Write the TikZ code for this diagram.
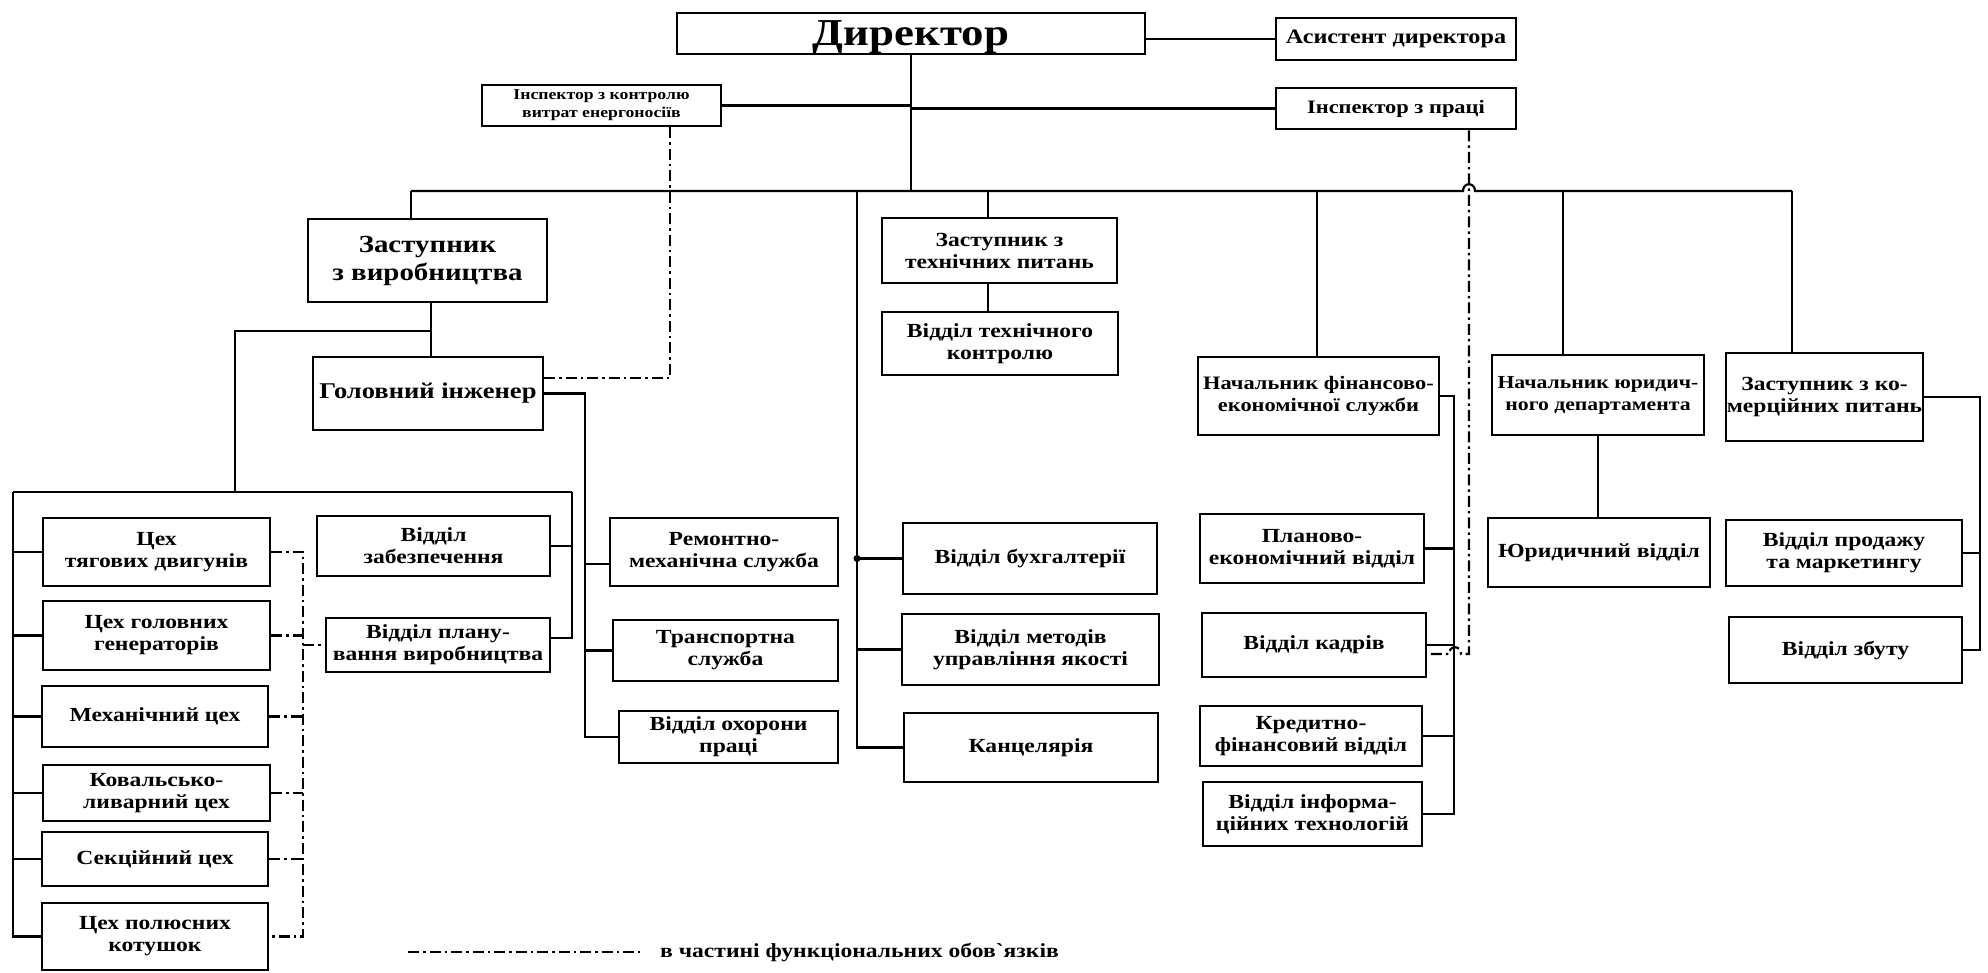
\documentclass[tikz,border=0pt]{standalone}
\usepackage{fontspec}
\newfontfamily\ukr{Liberation Serif}[FakeStretch=1.18]
\usetikzlibrary{calc}
\begin{document}
\begin{tikzpicture}[x=1pt,y=-1pt,
  box/.style={draw, line width=2pt, fill=white, align=center, inner sep=1pt,
    font=\ukr\bfseries\fontsize{20}{22}\selectfont},
  ln/.style={line width=2.2pt},
  dd/.style={line width=2.2pt, dash pattern=on 11pt off 4pt on 2.5pt off 4pt}]
\useasboundingbox[fill=white] (0,0) rectangle (1988,973);

% top level
\node[box, minimum width=468pt, minimum height=41pt, line width=2.6pt, text depth=0pt,
  font=\ukr\bfseries\fontsize{38}{40}\selectfont] (dir) at (911,33.5) {Директор};
\node[box, minimum width=240pt, minimum height=42pt, line width=2.6pt,
  font=\ukr\bfseries\fontsize{20.5}{23}\selectfont] (asst) at (1396,39) {Асистент директора};
\node[box, minimum width=239pt, minimum height=41pt, line width=2.6pt,
  font=\ukr\bfseries\fontsize{15}{18}\selectfont] (ienergy) at (601.5,105.5) {Інспектор з контролю\\витрат енергоносіїв};
\node[box, minimum width=240pt, minimum height=41pt, line width=2.6pt,
  font=\ukr\bfseries\fontsize{19}{22}\selectfont] (iprac) at (1396,108.5) {Інспектор з праці};

% second level
\node[box, minimum width=239pt, minimum height=83pt,
  font=\ukr\bfseries\fontsize{24.5}{28}\selectfont] (zvyr) at (427.5,260.5) {Заступник\\з виробництва};
\node[box, minimum width=230pt, minimum height=73pt,
  font=\ukr\bfseries\fontsize{22.5}{25}\selectfont] (holov) at (428,393.5) {Головний інженер};
\node[box, minimum width=235pt, minimum height=65pt] (ztech) at (999.5,250.5) {Заступник з\\технічних питань};
\node[box, minimum width=236pt, minimum height=63pt] (vtk) at (1000,343.5) {Відділ технічного\\контролю};
\node[box, minimum width=241pt, minimum height=78pt,
  font=\ukr\bfseries\fontsize{19}{22}\selectfont] (nfin) at (1318.5,396) {Начальник фінансово-\\економічної служби};
\node[box, minimum width=212pt, minimum height=80pt,
  font=\ukr\bfseries\fontsize{18.4}{22}\selectfont] (nyur) at (1598,395) {Начальник юридич-\\ного департамента};
\node[box, minimum width=193pt, minimum height=88pt] (zkom) at (1824.5,397) {Заступник з ко-\\мерційних питань};

% middle column
\node[box, minimum width=254pt, minimum height=71pt] (buh) at (1030,558.5) {Відділ бухгалтерії};
\node[box, minimum width=257pt, minimum height=71pt] (metod) at (1030.5,649.5) {Відділ методів\\управління якості};
\node[box, minimum width=254pt, minimum height=69pt] (kanc) at (1031,747.5) {Канцелярія};

% finance column
\node[box, minimum width=224pt, minimum height=69pt] (planek) at (1312,548.5) {Планово-\\економічний відділ};
\node[box, minimum width=224pt, minimum height=64pt] (kadr) at (1314,645) {Відділ кадрів};
\node[box, minimum width=222pt, minimum height=60pt] (kred) at (1311,736) {Кредитно-\\фінансовий відділ};
\node[box, minimum width=219pt, minimum height=64pt] (info) at (1312.5,814) {Відділ інформа-\\ційних технологій};

% legal and commerce
\node[box, minimum width=222pt, minimum height=69pt] (yur) at (1599,552.5) {Юридичний відділ};
\node[box, minimum width=236pt, minimum height=66pt] (prod) at (1844,553) {Відділ продажу\\та маркетингу};
\node[box, minimum width=233pt, minimum height=66pt] (zbut) at (1845.5,650) {Відділ збуту};

% shops
\node[box, minimum width=227pt, minimum height=68pt] (tyag) at (156.5,552) {Цех\\тягових двигунів};
\node[box, minimum width=227pt, minimum height=69pt] (gen) at (156.5,635.5) {Цех головних\\генераторів};
\node[box, minimum width=226pt, minimum height=61pt] (mech) at (155,716.5) {Механічний цех};
\node[box, minimum width=227pt, minimum height=56pt] (koval) at (156.5,793) {Ковальсько-\\ливарний цех};
\node[box, minimum width=226pt, minimum height=54pt] (sekc) at (155,859) {Секційний цех};
\node[box, minimum width=226pt, minimum height=67pt] (polus) at (155,936.5) {Цех полюсних\\котушок};

\node[box, minimum width=233pt, minimum height=60pt] (zabez) at (433.5,546) {Відділ\\забезпечення};
\node[box, minimum width=224pt, minimum height=54pt] (vplan) at (438,645) {Відділ плану-\\вання виробництва};

\node[box, minimum width=228pt, minimum height=68pt] (remont) at (724,552) {Ремонтно-\\механічна служба};
\node[box, minimum width=225pt, minimum height=61pt] (transp) at (725.5,650.5) {Транспортна\\служба};
\node[box, minimum width=219pt, minimum height=52pt] (ohor) at (728.5,737) {Відділ охорони\\праці};

% legend
\node[anchor=west, inner sep=0pt, font=\ukr\bfseries\fontsize{20}{22}\selectfont] (leg) at (660,952) {в частині функціональних обов`язків};
\coordinate (legstart) at (408,952);
\draw[dd] (legstart) -- ($(leg.west)+(-20,0)$);

% ---- solid connectors ----
\coordinate (top) at (911,191);
\draw[ln] (dir.east |- asst.west) -- (asst.west);
\draw[ln] (dir.south) -- (top);
\draw[ln] (ienergy.east) -- (ienergy.east -| top);
\draw[ln] (iprac.west -| top) -- (iprac.west);

\coordinate (b1) at (411,191);
\coordinate (b2) at (857,191);
\coordinate (b3) at (988,191);
\coordinate (b4) at (1317,191);
\coordinate (b5) at (1563,191);
\coordinate (b6) at (1792,191);
\draw[ln] (b1) -- (1463,191) .. controls (1463,182) and (1475,182) .. (1475,191) -- (b6);
\draw[ln] (b1) -- (b1 |- zvyr.north);
\draw[ln] (b2) -- (b2 |- kanc.west) -- (kanc.west);
\draw[ln] (b3) -- (b3 |- ztech.north);
\draw[ln] (ztech.south -| b3) -- (vtk.north -| b3);
\draw[ln] (b4) -- (b4 |- nfin.north);
\draw[ln] (b5) -- (b5 |- nyur.north);
\draw[ln] (b6) -- (b6 |- zkom.north);

\draw[ln] (b2 |- buh.west) -- (buh.west);
\draw[ln] (b2 |- metod.west) -- (metod.west);
\fill (b2 |- buh.west) circle (3.5pt);

% production branch
\coordinate (c1) at (431,331);
\coordinate (c2) at (235,331);
\coordinate (L) at (13,492);
\coordinate (R) at (572,492);
\draw[ln] (zvyr.south -| c1) -- (holov.north -| c1);
\draw[ln] (c1) -- (c2) -- (c2 |- L);
\draw[ln] (L) -- (R);
\draw[ln] (L) -- (L |- polus.west) -- (polus.west);
\foreach \n in {tyag,gen,mech,koval,sekc} \draw[ln] (L |- \n.west) -- (\n.west);
\draw[ln] (R) -- ($(R |- vplan.east)+(0,-7)$) -- ($(vplan.east)+(0,-7)$);
\draw[ln] (R |- zabez.east) -- (zabez.east);

\coordinate (G) at (585,393.5);
\draw[ln] (holov.east) -- (G) -- (G |- ohor.west) -- (ohor.west);
\draw[ln] ($(G |- remont.west)+(0,12)$) -- ($(remont.west)+(0,12)$);
\draw[ln] (G |- transp.west) -- (transp.west);

% finance
\coordinate (F) at (1454,396);
\draw[ln] (nfin.east) -- (F) -- (F |- info.east) -- (info.east);
\foreach \n in {planek,kadr,kred} \draw[ln] (F |- \n.east) -- (\n.east);

\draw[ln] (nyur.south) -- (nyur.south |- yur.north);

\coordinate (K) at (1980,397);
\draw[ln] (zkom.east) -- (K) -- (K |- zbut.east) -- (zbut.east);
\draw[ln] (K |- prod.east) -- (prod.east);

% ---- dash-dot connectors ----
\coordinate (E) at (670,378);
\draw[dd] (E |- ienergy.south) -- (E) -- (E -| holov.east);

\coordinate (D) at (303,552);
\draw[dd] (tyag.east) -- (tyag.east -| D) -- (D |- polus.east) -- (polus.east);
\foreach \n in {gen,mech,koval,sekc} \draw[dd] (\n.east) -- (\n.east -| D);
\draw[dd] (D |- vplan.west) -- (vplan.west);

\coordinate (P) at (1469,654);
\draw[dd] (iprac.south -| P) -- (P) -- (1461,654) .. controls (1461,645) and (1449,645) .. (1449,654) -- (kadr.east |- P);
\end{tikzpicture}
\end{document}
